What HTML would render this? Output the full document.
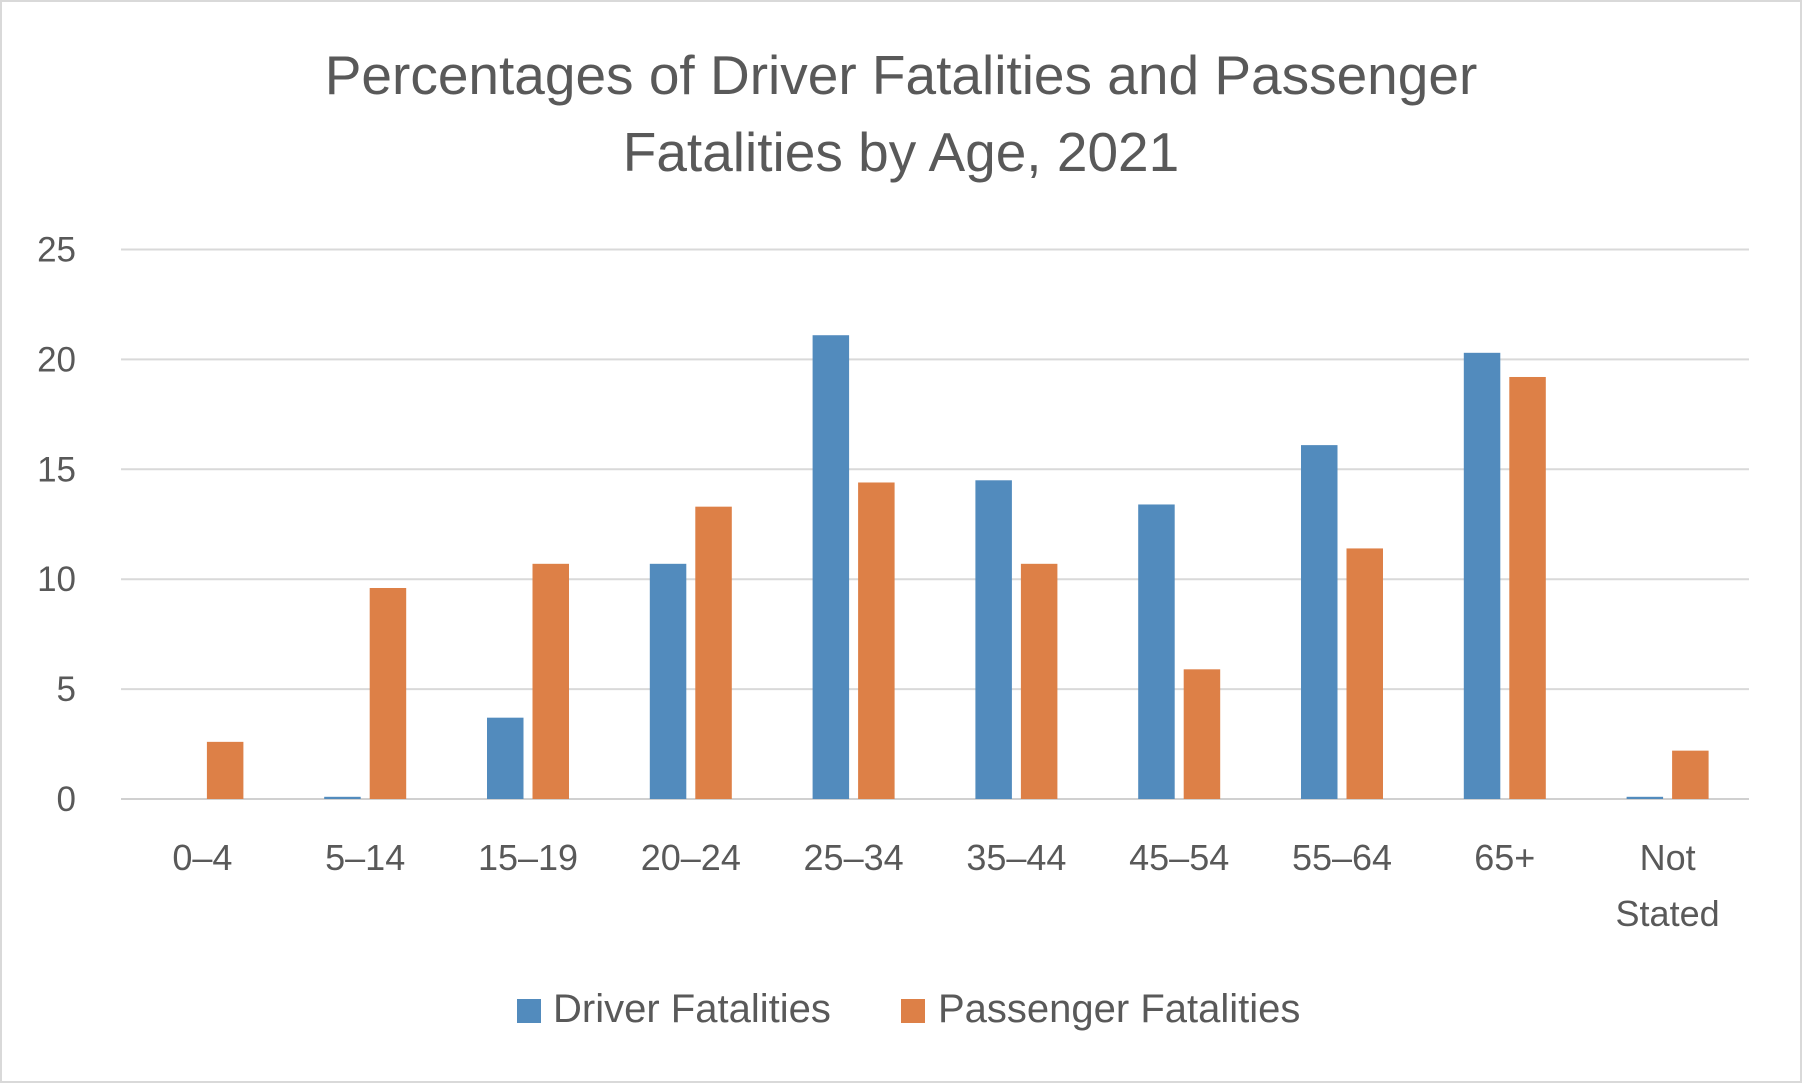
<!DOCTYPE html>
<html><head><meta charset="utf-8"><style>
html,body{margin:0;padding:0;background:#fff}
svg{display:block;font-family:"Liberation Sans",sans-serif}
</style></head><body>
<svg width="1802" height="1083" viewBox="0 0 1802 1083">
<rect x="1" y="1" width="1800" height="1081" fill="#fff" stroke="#d9d9d9" stroke-width="2"/>
<text x="901" y="94" text-anchor="middle" font-size="55" fill="#595959">Percentages of Driver Fatalities and Passenger</text>
<text x="901" y="171" text-anchor="middle" font-size="55" fill="#595959">Fatalities by Age, 2021</text>
<g id="grid"></g><g id="bars"></g><g id="labels"></g>
<g>
<rect x="517" y="999" width="24" height="24" fill="#528bbd"/>
<text x="553" y="1022" font-size="40" fill="#595959">Driver Fatalities</text>
<rect x="901" y="999" width="24" height="24" fill="#dd8047"/>
<text x="938" y="1022" font-size="40" fill="#595959">Passenger Fatalities</text>
</g>
</svg>
<script>
const categories=["0–4","5–14","15–19","20–24","25–34","35–44","45–54","55–64","65+","Not Stated"];
const driver=[0,0.1,3.7,10.7,21.1,14.5,13.4,16.1,20.3,0.1];
const passenger=[2.6,9.6,10.7,13.3,14.4,10.7,5.9,11.4,19.2,2.2];
const ticks=[0,5,10,15,20,25];
const NS="http://www.w3.org/2000/svg";
const L=121,R=1749,Y0=799,Y25=249.5;
const y=v=>Y0-(Y0-Y25)*v/25;
const bw=(R-L)/categories.length;
const cx=i=>L+bw*(i+0.5);
function mk(t,a,p){const e=document.createElementNS(NS,t);for(const k in a)e.setAttribute(k,a[k]);p.appendChild(e);return e;}
const g=document.getElementById('grid'),b=document.getElementById('bars'),lb=document.getElementById('labels');
ticks.forEach(t=>{
 const l=mk('line',{x1:L,x2:R,y1:y(t),y2:y(t),stroke:t===0?'#d0d0d0':'#d9d9d9','stroke-width':2},g);
 
 
 const tx=mk('text',{x:76,y:y(t)+12,'text-anchor':'end','font-size':35,fill:'#595959'},lb);
 tx.textContent=t;
 
 
});
categories.forEach((c,i)=>{
 const w=36.5;
 const d=mk('rect',{x:cx(i)-41,y:y(driver[i]),width:w,height:Y0-y(driver[i]),fill:'#528bbd'},b);
 
 
 const p=mk('rect',{x:cx(i)+4.5,y:y(passenger[i]),width:w,height:Y0-y(passenger[i]),fill:'#dd8047'},b);
 
 
 const parts=c==="Not Stated"?["Not","Stated"]:[c];
 parts.forEach((s,k)=>{
  const t=mk('text',{x:cx(i),y:870+k*56,'text-anchor':'middle','font-size':36,fill:'#595959'},lb);
  t.textContent=s;
  
  
 });
});
</script>
</body></html>
